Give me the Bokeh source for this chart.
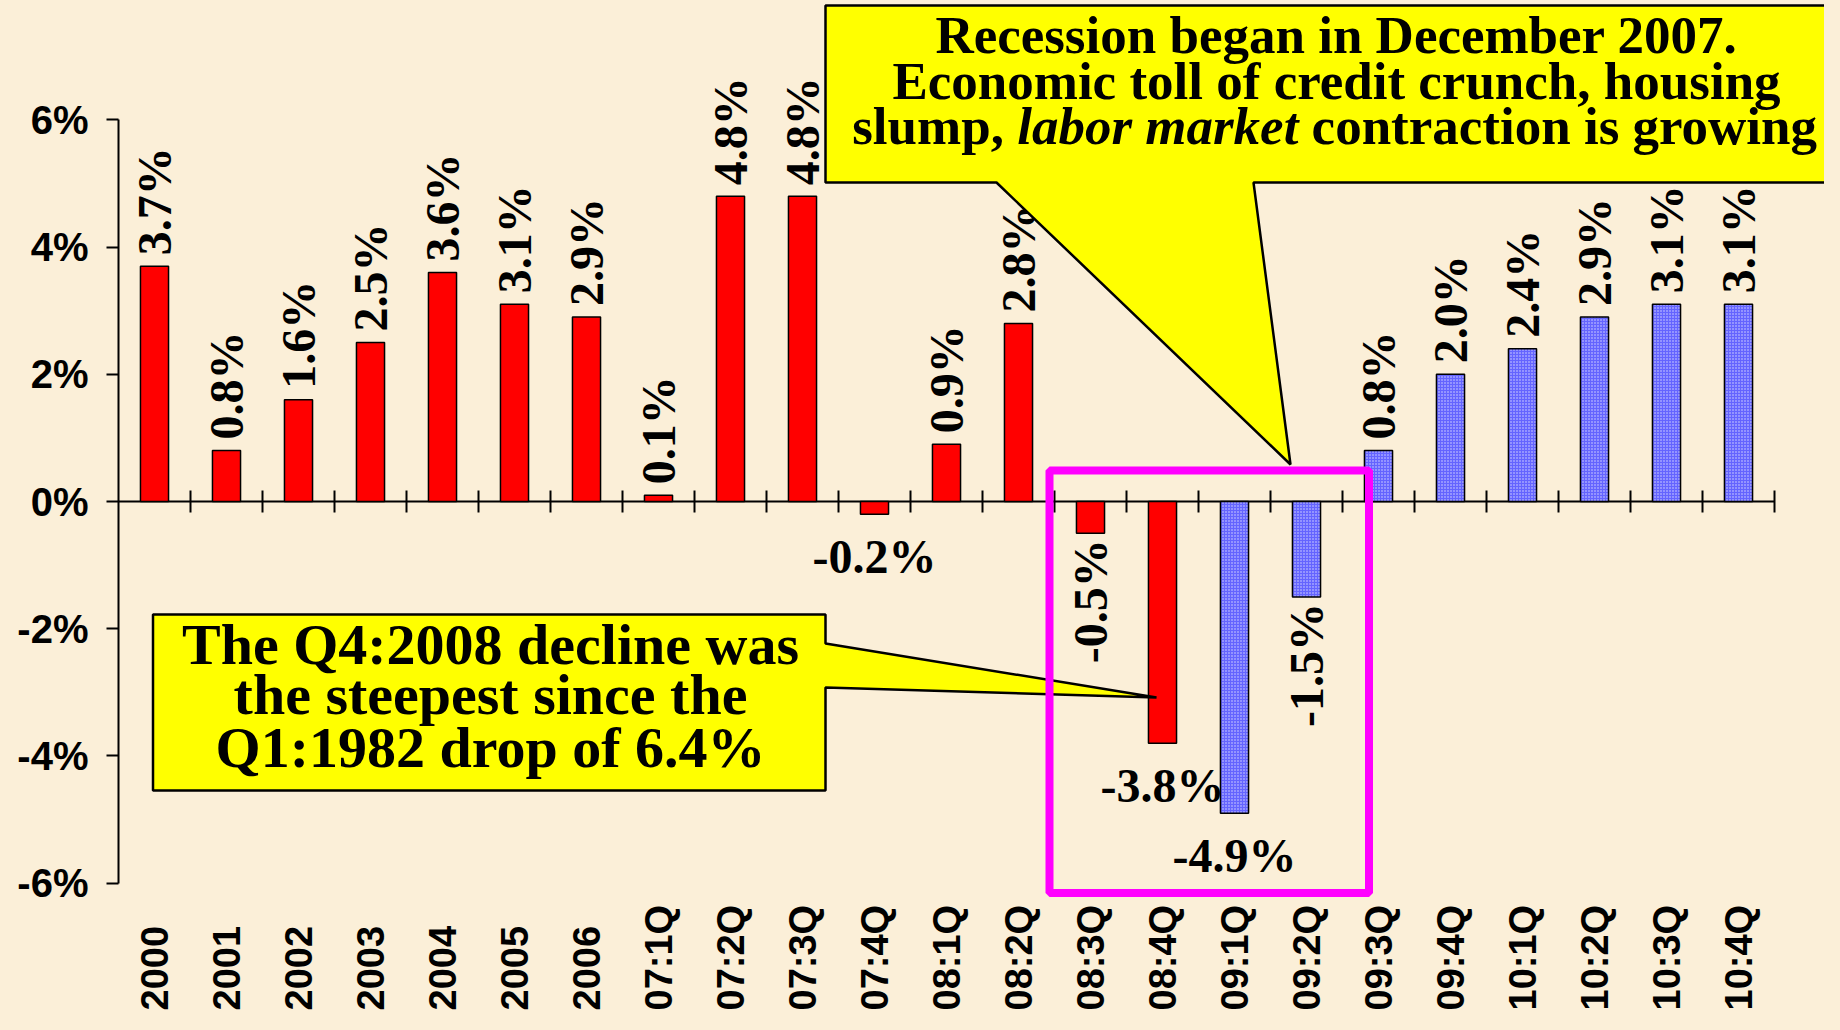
import math
from jinja2 import Template
from bokeh.plotting import figure
from bokeh.models import Range1d, LinearAxis, FixedTicker, ColumnDataSource
from bokeh.core.properties import value
from bokeh.embed import file_html
from bokeh.resources import INLINE

# ---------------- data ----------------
categories = ["2000", "2001", "2002", "2003", "2004", "2005", "2006",
              "07:1Q", "07:2Q", "07:3Q", "07:4Q",
              "08:1Q", "08:2Q", "08:3Q", "08:4Q",
              "09:1Q", "09:2Q", "09:3Q", "09:4Q",
              "10:1Q", "10:2Q", "10:3Q", "10:4Q"]
gdp_growth = [3.7, 0.8, 1.6, 2.5, 3.6, 3.1, 2.9,
              0.1, 4.8, 4.8, -0.2,
              0.9, 2.8, -0.5, -3.8,
              -4.9, -1.5, 0.8, 2.0,
              2.4, 2.9, 3.1, 3.1]
series_kind = ["actual", "actual", "actual", "actual", "actual", "actual", "actual",
               "actual", "actual", "actual", "actual",
               "actual", "actual", "actual", "actual",
               "forecast", "forecast", "forecast", "forecast",
               "forecast", "forecast", "forecast", "forecast"]
y_ticks = [-6, -4, -2, 0, 2, 4, 6]
y_tick_labels = ["-6%", "-4%", "-2%", "0%", "2%", "4%", "6%"]
horizontal_label_cats = ["07:4Q", "08:4Q", "09:1Q"]

callout_top = ["Recession began in December 2007.",
               "Economic toll of credit crunch, housing"]
callout_top_l3 = ["slump,", "labor market", "contraction is growing"]
callout_left = ["The Q4:2008 decline was",
                "the steepest since the",
                "Q1:1982 drop of 6.4%"]

# ---------------- layout constants (pixels) ----------------
BG = "#fbefd8"
FIG_W, FIG_H = 1824, 1014
FRAME_LEFT = 118
PX_CAT = 72.0
PX_PCT = 63.6
ZERO_Y = 501.0
BASE_SHIFT = 0.33  # em correction for alphabetic baseline placement


def X(px):
    return (px - FRAME_LEFT) / PX_CAT


def Y(py):
    return (ZERO_Y - py) / PX_PCT


p = figure(frame_width=FIG_W - FRAME_LEFT, frame_height=FIG_H,
           x_range=Range1d(0, (FIG_W - FRAME_LEFT) / PX_CAT),
           y_range=Range1d(Y(FIG_H), Y(0)),
           x_axis_type=None, y_axis_type=None,
           output_backend="svg", toolbar_location=None,
           min_border=0, min_border_left=FRAME_LEFT, min_border_right=0,
           min_border_top=0, min_border_bottom=0,
           background_fill_color=BG, border_fill_color=BG,
           outline_line_color=None)

# y axis
yaxis = LinearAxis(ticker=FixedTicker(ticks=y_ticks), bounds=(-6, 6),
                   major_label_overrides={t: l for t, l in zip(y_ticks, y_tick_labels)},
                   major_tick_in=0, major_tick_out=12,
                   minor_tick_line_color=None,
                   axis_line_width=2, major_tick_line_width=2,
                   major_label_standoff=18,
                   major_label_text_font="Liberation Sans",
                   major_label_text_font_style="bold",
                   major_label_text_font_size="40px",
                   major_label_text_color="black")
p.add_layout(yaxis, "left")

n = len(categories)
xc = [i + 0.5 for i in range(n)]

# zero line with ticks at category boundaries
tick_half = 11 / PX_PCT
p.segment(x0=[0], x1=[n], y0=[0], y1=[0], line_color="black", line_width=2)
p.segment(x0=list(range(1, n + 1)), x1=list(range(1, n + 1)),
          y0=[-tick_half] * n, y1=[tick_half] * n, line_color="black", line_width=2)

# bars
act = ColumnDataSource(dict(x=[x for x, k in zip(xc, series_kind) if k == "actual"],
                            top=[v for v, k in zip(gdp_growth, series_kind) if k == "actual"]))
fc = ColumnDataSource(dict(x=[x for x, k in zip(xc, series_kind) if k == "forecast"],
                           top=[v for v, k in zip(gdp_growth, series_kind) if k == "forecast"]))
BAR_W = 0.39
p.vbar(x="x", top="top", bottom=0, width=BAR_W, source=act,
       fill_color="#ff0000", line_color="black", line_width=1.5)
p.vbar(x="x", top="top", bottom=0, width=BAR_W, source=fc,
       fill_color="#6464ff", line_color="black", line_width=1.5,
       hatch_pattern="dot", hatch_color="#dcdcff", hatch_scale=3, hatch_weight=1.2)

# value labels
LAB_FS = 48
labels = [f"{v:.1f}%" for v in gdp_growth]
pv = dict(x=[], y=[], t=[])
nv = dict(x=[], y=[], t=[])
hv = dict(x=[], y=[], t=[])
for c, x, v, t in zip(categories, xc, gdp_growth, labels):
    if c in horizontal_label_cats:
        hv["x"].append(x); hv["y"].append(v - (58 - BASE_SHIFT * LAB_FS) / PX_PCT); hv["t"].append(t)
    elif v >= 0:
        pv["x"].append(x); pv["y"].append(v + 11 / PX_PCT); pv["t"].append(t)
    else:
        nv["x"].append(x); nv["y"].append(v - 6 / PX_PCT); nv["t"].append(t)

lab_font = dict(text_font=value("Liberation Serif"), text_font_style="bold",
                text_font_size=f"{LAB_FS}px", text_color="black")
p.text(x="x", y="y", text="t", source=ColumnDataSource(pv), angle=math.pi / 2,
       text_align="left", text_baseline="middle", **lab_font)
p.text(x="x", y="y", text="t", source=ColumnDataSource(nv), angle=math.pi / 2,
       text_align="right", text_baseline="middle", **lab_font)
p.text(x="x", y="y", text="t", source=ColumnDataSource(hv),
       text_align="center", text_baseline="alphabetic", **lab_font)

# category labels (vertical, aligned at the bottom)
cat_src = ColumnDataSource(dict(x=xc, y=[Y(1010)] * n, text=categories))
p.text(x="x", y="y", text="text", source=cat_src, angle=math.pi / 2,
       text_align="left", text_baseline="middle",
       text_font=value("Liberation Sans"), text_font_style="bold",
       text_font_size="38px", text_color="black")

# callout 1 (top)
c1x = [825, 1850, 1850, 1253, 1290, 996, 825]
c1y = [5, 5, 182, 182, 464, 182, 182]
p.patch([X(v) for v in c1x], [Y(v) for v in c1y], fill_color="#ffff00",
        line_color="black", line_width=2.5)
F1 = 53
sh1 = BASE_SHIFT * F1
title_font = dict(text_font=value("Liberation Serif"), text_font_style="bold",
                  text_font_size=f"{F1}px", text_color="black", text_baseline="alphabetic")
CX1 = 1336
p.text(x=[X(CX1)] * 2, y=[Y(52 - sh1), Y(98 - sh1)], text=callout_top,
       text_align="center", **title_font)
w1 = 3.112 * F1
w2 = 5.306 * F1
w3 = 9.555 * F1
start = CX1 - 8 - (w1 + w2 + w3) / 2
p.text(x=[X(start)], y=[Y(143 - sh1)], text=[callout_top_l3[0]], text_align="left", **title_font)
p.text(x=[X(start + w1)], y=[Y(143 - sh1)], text=[callout_top_l3[1]], text_align="left",
       text_font=value("Liberation Serif"), text_font_style="bold italic",
       text_font_size=f"{F1}px", text_color="black", text_baseline="alphabetic")
p.text(x=[X(start + w1 + w2 + 0.25 * F1)], y=[Y(143 - sh1)], text=[callout_top_l3[2]],
       text_align="left", **title_font)

# callout 2 (left)
c2x = [152.5, 825, 825, 1156, 825, 825, 152.5]
c2y = [614, 614, 643, 697, 687, 790, 790]
p.patch([X(v) for v in c2x], [Y(v) for v in c2y], fill_color="#ffff00",
        line_color="black", line_width=2.5)
F2 = 58
sh2 = BASE_SHIFT * F2
p.text(x=[X(490)] * 3, y=[Y(663 - sh2), Y(713 - sh2), Y(766 - sh2)], text=callout_left,
       text_align="center", text_baseline="alphabetic",
       text_font=value("Liberation Serif"), text_font_style="bold",
       text_font_size=f"{F2}px", text_color="black")

# magenta highlight box
p.quad(left=[X(1049)], right=[X(1368.5)], top=[Y(470)], bottom=[Y(892.5)],
       fill_alpha=0, line_color="#ff00ff", line_width=8)

page_template = Template("""{% extends base %}
{% block preamble %}<style>html, body { background: """ + BG + """; }</style>{% endblock %}
""")
open("out.html", "w").write(file_html(p, INLINE, template=page_template))
